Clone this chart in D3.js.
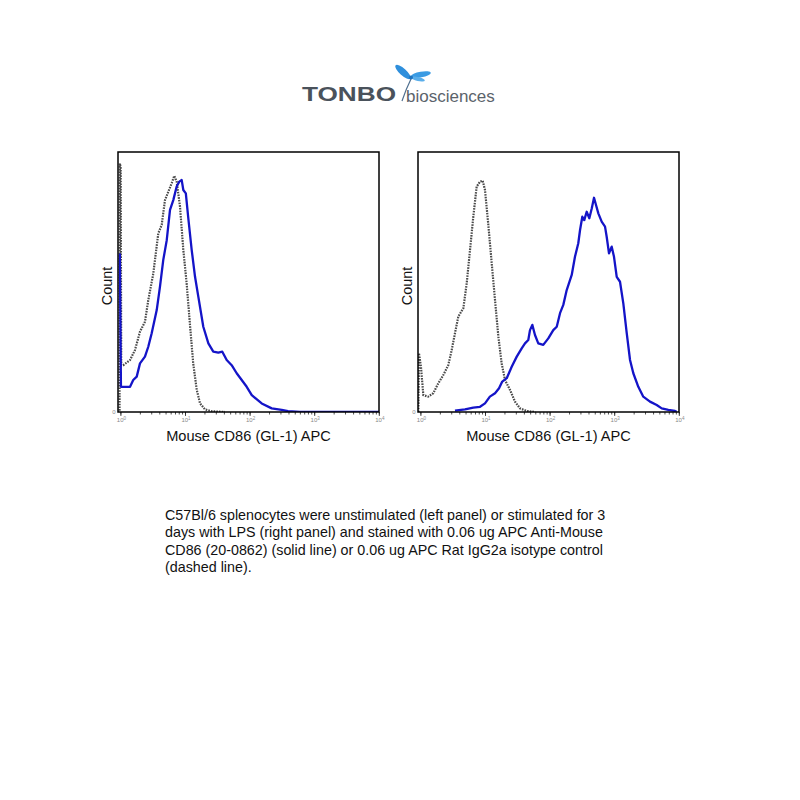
<!DOCTYPE html>
<html>
<head>
<meta charset="utf-8">
<script src="https://cdn.jsdelivr.net/npm/d3@7"></script>
<style>
  body { margin: 0; background: #fff; }
  svg { display: block; font-family: "Liberation Sans", Arial, sans-serif; }
</style>
</head>
<body>
<div id="chart-container"></div>
<script>
// Histogram data: [APC intensity, count as % of panel height]
const leftIsotype = [[0.97,0.5],[0.98,95.6],[1.01,94],[1.03,18],[1.11,18],[1.41,20],[1.68,23.8],[2.01,30.9],[2.40,34.7],[2.70,43],[3.23,53.3],[3.86,68.7],[4.36,72],[4.90,81.5],[5.51,84.7],[6.22,88],[6.83,90.8],[7.43,88.6],[8.37,79],[9.42,62.3],[10.6,49.5],[11.9,34],[13.4,18.7],[15.2,8.5],[17.1,3.3],[20.4,1],[25.9,0.3],[41.6,0]];
const leftCD86 = [[0.98,61],[1.02,9.7],[1.11,9.7],[1.41,9.7],[1.58,12.3],[1.79,13.6],[2.01,18.7],[2.40,21.3],[2.70,25.1],[3.05,30.3],[3.65,39.2],[4.10,48.2],[4.61,58.5],[5.21,66],[5.86,77.7],[6.59,81.5],[7.43,86.7],[8.16,88.6],[8.89,89.2],[9.42,85.4],[10.3,84.1],[11.2,75],[12.7,62.3],[14.3,52],[16.1,44.3],[19.2,32.8],[23.0,26.4],[27.4,23.2],[32.8,22.8],[37.8,23.2],[44.2,20],[52.8,18],[63.1,14.9],[75.5,12.3],[90.2,9.7],[108,6.5],[154,3.3],[220,1.4],[314,0.8],[393,0.3],[600,0],[10000,0]];
const rightIsotype = [[0.93,0],[0.95,22.6],[1.02,17.4],[1.11,6.5],[1.32,5.9],[1.58,7.2],[1.89,11],[2.26,14.2],[2.70,18],[3.05,23.8],[3.43,30.3],[3.86,36.7],[4.62,39.9],[5.21,49.5],[5.86,62.3],[6.59,75.1],[7.43,86.7],[8.37,88.6],[9.2,89],[10,85.4],[11.2,72.6],[12.7,57.2],[14.3,43],[16.1,29],[18.1,18.7],[20.4,12.3],[24.4,8.5],[29.1,4],[34.8,1.4],[44.2,0.4],[60,0]];
const rightCD86 = [[3.43,0.5],[4.90,1],[6.59,1.7],[8.37,2],[10,3.3],[11.9,5.9],[14.3,7.2],[16.5,9.1],[18.5,11.7],[21.7,13],[25.9,17.4],[31.0,21.3],[37.0,24.5],[41.6,26.4],[46.8,27.7],[49.7,31.5],[54,33.5],[59.4,29.6],[66.8,26.4],[79.8,25.8],[95.5,28.3],[114,31.5],[129,32.8],[145,38],[163,41.2],[184,46.9],[220,52.7],[247,59.7],[278,64.9],[296,70],[321,75.1],[344,73.8],[375,77],[412,74.5],[449,78.3],[487,82.4],[523,79.6],[568,76.4],[640,73.2],[721,71.3],[765,67.4],[831,61],[915,63.6],[993,59.7],[1094,52],[1230,50.1],[1384,41.8],[1563,30.3],[1758,20],[1977,14.9],[2362,9.7],[2821,5.9],[3580,4],[4549,2.7],[5437,1.4],[6887,0.8],[8730,0.4],[9270,0.1]];

const decadeExponents = [0, 1, 2, 3, 4];
const xLabel = "Mouse CD86 (GL-1) APC";
const yLabel = "Count";
const captionLines = [
    "C57Bl/6 splenocytes were unstimulated (left panel) or stimulated for 3",
    "days with LPS (right panel) and stained with 0.06 ug APC Anti-Mouse",
    "CD86 (20-0862) (solid line) or 0.06 ug APC Rat IgG2a isotype control",
    "(dashed line)."
];

const svg = d3.select("#chart-container")
    .append("svg")
    .attr("width", 800)
    .attr("height", 800);

// Logo
const logo = svg.append("g");
logo.append("text")
    .attr("x", 302).attr("y", 101)
    .attr("textLength", 94).attr("lengthAdjust", "spacingAndGlyphs")
    .style("font-size", "21px").style("font-weight", "bold")
    .attr("fill", "#4a525b")
    .text("TONBO");
logo.append("path")
    .attr("d", "M411,79 Q406,89 402,101")
    .attr("fill", "none").attr("stroke", "#4f6f8f").attr("stroke-width", 1.2);
logo.append("ellipse")
    .attr("cx", 403).attr("cy", 72).attr("rx", 10).attr("ry", 3.4)
    .attr("transform", "rotate(42,403,72)")
    .attr("fill", "#2f8fdc");
logo.append("ellipse")
    .attr("cx", 421).attr("cy", 74.5).attr("rx", 10).attr("ry", 2.8)
    .attr("transform", "rotate(-10,421,74.5)")
    .attr("fill", "#3a9be3");
logo.append("ellipse")
    .attr("cx", 418).attr("cy", 79).attr("rx", 7).attr("ry", 2)
    .attr("transform", "rotate(12,418,79)")
    .attr("fill", "#5aaeea");
logo.append("circle").attr("cx", 411).attr("cy", 77.5).attr("r", 2).attr("fill", "#1f74c0");
logo.append("text")
    .attr("x", 406).attr("y", 102)
    .style("font-size", "17px")
    .attr("fill", "#5b636b")
    .text("biosciences");

const panelW = 261, panelTop = 152, panelBottom = 412;

function drawPanel(x0, isotype, cd86) {
    const x = d3.scaleLog()
        .domain([1, 10000])
        .range([x0 + 2.4, x0 + panelW - 0.2]);
    const y = d3.scaleLinear()
        .domain([0, 100])
        .range([panelBottom, panelTop]);

    const g = svg.append("g");

    // minor + major ticks along the bottom
    const minor = [];
    for (let e = 0; e < 4; e++) {
        for (let m = 1; m <= 9; m++) minor.push(m * Math.pow(10, e));
    }
    minor.push(10000);
    const ax1 = g.append("g")
        .attr("transform", "translate(0," + panelBottom + ")")
        .call(d3.axisBottom(x).tickValues(minor).tickSize(2.5).tickFormat(""));
    const ax2 = g.append("g")
        .attr("transform", "translate(0," + panelBottom + ")")
        .call(d3.axisBottom(x).tickValues(decadeExponents.map(e => Math.pow(10, e))).tickSize(4).tickFormat(""));
    [ax1, ax2].forEach(a => {
        a.select(".domain").remove();
        a.selectAll("line").attr("stroke", "#222").attr("stroke-width", 0.8);
    });

    // decade labels
    const lbl = g.selectAll(".dec")
        .data(decadeExponents)
        .enter()
        .append("text")
        .attr("class", "dec")
        .attr("x", d => x(Math.pow(10, d)) + 1)
        .attr("y", panelBottom + 10)
        .attr("text-anchor", "middle")
        .attr("fill", "#888")
        .style("font-size", "6px");
    lbl.append("tspan").text("10");
    lbl.append("tspan").attr("dy", -2.5).style("font-size", "4.5px").text(d => d);

    g.append("text")
        .attr("x", x0 - 4).attr("y", panelBottom + 2)
        .attr("text-anchor", "middle")
        .attr("fill", "#888")
        .style("font-size", "6px")
        .text("0");

    const clipId = "clip" + x0;
    svg.append("clipPath").attr("id", clipId)
        .append("rect")
        .attr("x", x0).attr("y", panelTop)
        .attr("width", panelW).attr("height", panelBottom - panelTop);

    const line = d3.line()
        .x(d => x(d[0]))
        .y(d => y(d[1]));

    g.append("path")
        .datum(isotype)
        .attr("clip-path", "url(#" + clipId + ")")
        .attr("fill", "none")
        .attr("stroke", "#4a4a4a")
        .attr("stroke-width", 2.2)
        .attr("stroke-dasharray", "1.6,1.1")
        .attr("d", line);

    g.append("path")
        .datum(cd86)
        .attr("clip-path", "url(#" + clipId + ")")
        .attr("fill", "none")
        .attr("stroke", "#1414c8")
        .attr("stroke-width", 2.3)
        .attr("stroke-linejoin", "round")
        .attr("d", line);

    // frame
    g.append("rect")
        .attr("x", x0).attr("y", panelTop)
        .attr("width", panelW).attr("height", panelBottom - panelTop)
        .attr("fill", "none")
        .attr("stroke", "#000")
        .attr("stroke-width", 1.5);

    g.append("text")
        .attr("transform", "translate(" + (x0 - 6) + "," + ((panelTop + panelBottom) / 2 + 4) + ") rotate(-90)")
        .attr("text-anchor", "middle")
        .attr("fill", "#111")
        .style("font-size", "14.5px")
        .text(yLabel);

    g.append("text")
        .attr("x", x0 + panelW / 2)
        .attr("y", 441)
        .attr("text-anchor", "middle")
        .attr("fill", "#111")
        .style("font-size", "14.6px")
        .text(xLabel);
}

drawPanel(118, leftIsotype, leftCD86);
drawPanel(418, rightIsotype, rightCD86);

// Caption
svg.append("g").selectAll("text")
    .data(captionLines)
    .enter()
    .append("text")
    .attr("x", 165)
    .attr("y", (d, i) => 520 + i * 17.4)
    .attr("fill", "#111")
    .style("font-size", "14.3px")
    .text(d => d);
</script>
</body>
</html>
